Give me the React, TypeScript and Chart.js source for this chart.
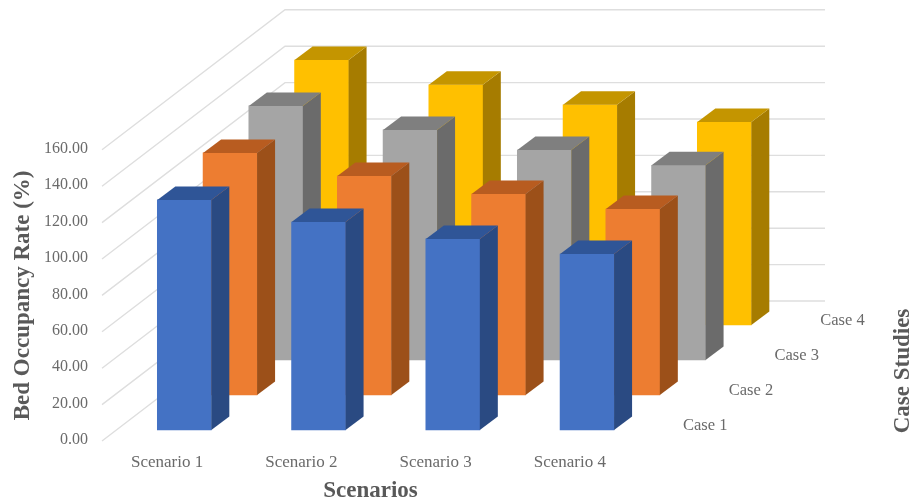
import { useEffect, useRef } from "react";
import Chart from "chart.js/auto";

const scenarios = ["Scenario 1", "Scenario 2", "Scenario 3", "Scenario 4"];
const caseNames = ["Case 1", "Case 2", "Case 3", "Case 4"];

const case1Values = [126.4, 114.3, 105.0, 96.7];
const case2Values = [133.0, 120.3, 110.4, 102.2];
const case3Values = [139.6, 126.4, 115.4, 107.0];
const case4Values = [145.6, 132.0, 121.0, 111.5];
const seriesValues = [case1Values, case2Values, case3Values, case4Values];

const frontColors = ["#4472C4", "#ED7D31", "#A5A5A5", "#FFC000"];
const sideColors = ["#2A4A82", "#9C5019", "#6B6B6B", "#A67C00"];
const topColors = ["#2F5597", "#B85C20", "#7F7F7F", "#C49500"];

const SERIF = "'Liberation Serif', serif";
const TICK_COLOR = "#6A6A6A";
const TITLE_COLOR = "#595959";
const GRID_COLOR = "#DEDEDE";

// Oblique projection used for the depth axis, in pixels.
const FLOOR_DEPTH = { x: 183, y: -140 };
const CASE_STEP = { x: 45.75, y: -35 };
const FIRST_CASE = { x: 15.2, y: -11 };
const BAR_DEPTH = { x: 18, y: -13.5 };
const WALL_OVERHANG = 3;

function polygon(ctx: CanvasRenderingContext2D, points: number[][], fill: string) {
  ctx.beginPath();
  points.forEach(([x, y], i) => (i === 0 ? ctx.moveTo(x, y) : ctx.lineTo(x, y)));
  ctx.closePath();
  ctx.fillStyle = fill;
  ctx.fill();
}

const obliqueBars = {
  id: "obliqueBars",
  // Slides every bar back along the depth axis according to its case.
  afterDatasetsUpdate(chart: any) {
    chart.data.datasets.forEach((_: any, i: number) => {
      const dx = FIRST_CASE.x + CASE_STEP.x * i;
      const dy = FIRST_CASE.y + CASE_STEP.y * i;
      chart.getDatasetMeta(i).data.forEach((bar: any) => {
        bar.x += dx;
        bar.y += dy;
        bar.base += dy;
      });
    });
  },
  // Side walls and floor-to-back lines of the plot box.
  beforeDatasetsDraw(chart: any) {
    const { ctx, chartArea, scales } = chart;
    ctx.save();
    ctx.strokeStyle = GRID_COLOR;
    ctx.lineWidth = 1.4;
    scales.y.ticks.forEach((tick: any) => {
      const y = scales.y.getPixelForValue(tick.value);
      ctx.beginPath();
      ctx.moveTo(chartArea.left, y);
      ctx.lineTo(chartArea.left + FLOOR_DEPTH.x, y + FLOOR_DEPTH.y);
      ctx.lineTo(chartArea.right + FLOOR_DEPTH.x + WALL_OVERHANG, y + FLOOR_DEPTH.y);
      ctx.stroke();
    });
    ctx.restore();
  },
  // Top and right faces of each column.
  afterDatasetDraw(chart: any, args: any) {
    const { ctx } = chart;
    const i = args.index;
    ctx.save();
    args.meta.data.forEach((bar: any) => {
      const left = bar.x - bar.width / 2;
      const right = bar.x + bar.width / 2;
      const { x: dx, y: dy } = BAR_DEPTH;
      polygon(ctx, [[right, bar.y], [right + dx, bar.y + dy], [right + dx, bar.base + dy], [right, bar.base]], sideColors[i]);
      polygon(ctx, [[left, bar.y], [left + dx, bar.y + dy], [right + dx, bar.y + dy], [right, bar.y]], topColors[i]);
    });
    ctx.restore();
  },
  // Depth axis labels and its title.
  afterDraw(chart: any) {
    const { ctx, chartArea } = chart;
    ctx.save();
    ctx.fillStyle = TICK_COLOR;
    ctx.font = `16.5px ${SERIF}`;
    ctx.textAlign = "left";
    ctx.textBaseline = "middle";
    caseNames.forEach((name, i) => {
      ctx.fillText(name, chartArea.right + 44 + CASE_STEP.x * i, chartArea.bottom - 15 + CASE_STEP.y * i);
    });
    ctx.translate(903, 371);
    ctx.rotate(-Math.PI / 2);
    ctx.textAlign = "center";
    ctx.fillStyle = TITLE_COLOR;
    ctx.font = `bold 23px ${SERIF}`;
    ctx.fillText("Case Studies", 0, 0);
    ctx.restore();
  },
};

export default function App() {
  const canvasRef = useRef<HTMLCanvasElement | null>(null);

  useEffect(() => {
    const chart = new Chart(canvasRef.current as HTMLCanvasElement, {
      type: "bar",
      data: {
        labels: scenarios,
        datasets: seriesValues.map((values, i) => ({
          label: caseNames[i],
          data: values,
          backgroundColor: frontColors[i],
          borderWidth: 0,
          barThickness: 54,
          clip: false,
        })),
      },
      options: {
        responsive: false,
        animation: false,
        events: [],
        layout: { padding: { left: 0, top: 149.8, right: 270, bottom: 0 } },
        plugins: { legend: { display: false }, tooltip: { enabled: false } },
        scales: {
          x: {
            stacked: true,
            grid: { display: false, drawTicks: false },
            border: { display: false },
            afterFit: (scale: any) => {
              scale.height = 63;
            },
            ticks: {
              maxRotation: 0,
              padding: 11,
              labelOffset: -2,
              color: TICK_COLOR,
              font: { family: SERIF, size: 17 },
            },
            title: {
              display: true,
              text: "Scenarios",
              color: TITLE_COLOR,
              font: { family: SERIF, size: 23, weight: "bold" },
              padding: { top: 0, bottom: -1 },
            },
          },
          y: {
            min: 0,
            max: 160,
            grid: { display: false, drawTicks: false },
            border: { display: false },
            afterFit: (scale: any) => {
              scale.width = 102;
            },
            ticks: {
              stepSize: 20,
              padding: 14,
              labelOffset: -1,
              color: TICK_COLOR,
              font: { family: SERIF, size: 16 },
              callback: (value: any) => Number(value).toFixed(2),
            },
            title: {
              display: true,
              text: "Bed Occupancy Rate (%)",
              color: TITLE_COLOR,
              font: { family: SERIF, size: 23, weight: "bold" },
              padding: { top: 9, bottom: 0 },
            },
          },
        },
      },
      plugins: [obliqueBars],
    } as any);
    return () => chart.destroy();
  }, []);

  return (
    <div style={{ position: "absolute", left: 0, top: 0, width: 909, height: 504, background: "#fff" }}>
      <canvas ref={canvasRef} width={909} height={504} style={{ display: "block" }} />
    </div>
  );
}
